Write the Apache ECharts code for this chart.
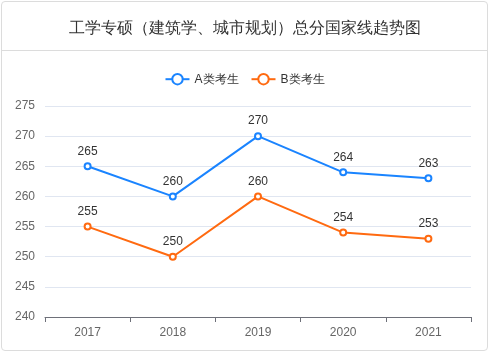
<!DOCTYPE html>
<html>
	<head>
		<meta charset="utf-8">
		<title></title>
		<script src="https://cdn.jsdelivr.net/npm/echarts@6/dist/echarts.min.js" type="text/javascript" charset="utf-8"></script>
		<style>
			body { margin: 0; background: #fff; }
			#main { position: absolute; left: 1px; top: 1px; width: 485px; height: 348px;
				border: 1px solid #dcdcdc; border-radius: 4px; }
		</style>
	</head>
	<body>
		<div id="main"></div>
		<script type="text/javascript">
			// 年份
			var years = ['2017', '2018', '2019', '2020', '2021']
			// A类考生 分数线
			var scoreA = [265, 260, 270, 264, 263]
			// B类考生 分数线
			var scoreB = [255, 250, 260, 254, 253]

			var myChart = echarts.init(document.getElementById('main'))
			var option = {
				title: {
					text: '工学专硕（建筑学、城市规划）总分国家线趋势图',
					left: 'center',
					top: 14,
					textStyle: { fontSize: 16, fontWeight: 'normal', color: '#333' }
				},
				graphic: [
					{
						type: 'line',
						shape: { x1: 0, y1: 48.5, x2: 486, y2: 48.5 },
						style: { stroke: '#dcdcdc', lineWidth: 1 }
					}
				],
				legend: {
					top: 66,
					itemGap: 12,
					itemWidth: 24,
					itemHeight: 13,
					textStyle: { fontSize: 12, color: '#333' },
					data: ['A类考生', 'B类考生']
				},
				grid: { left: 43, right: 16, top: 104, bottom: 33 },
				xAxis: {
					type: 'category',
					data: years,
					axisLine: { lineStyle: { color: '#6e7079' } },
					axisTick: { show: true, length: 5, lineStyle: { color: '#6e7079' } },
					axisLabel: { color: '#666', fontSize: 12, margin: 10 }
				},
				yAxis: {
					type: 'value',
					min: 240,
					max: 275,
					interval: 5,
					axisLabel: { color: '#666', fontSize: 12, margin: 10 },
					splitLine: { lineStyle: { color: '#e0e6f1' } }
				},
				series: [
					{
						name: 'A类考生',
						type: 'line',
						data: scoreA,
						symbol: 'emptyCircle',
						symbolSize: 6,
						itemStyle: { color: '#1a84ff' },
						lineStyle: { width: 2 },
						label: { show: true, position: 'top', color: '#333', fontSize: 12 }
					},
					{
						name: 'B类考生',
						type: 'line',
						data: scoreB,
						symbol: 'emptyCircle',
						symbolSize: 6,
						itemStyle: { color: '#ff6a10' },
						lineStyle: { width: 2 },
						label: { show: true, position: 'top', color: '#333', fontSize: 12 }
					}
				]
			}
			myChart.setOption(option)
		</script>
	</body>
</html>
